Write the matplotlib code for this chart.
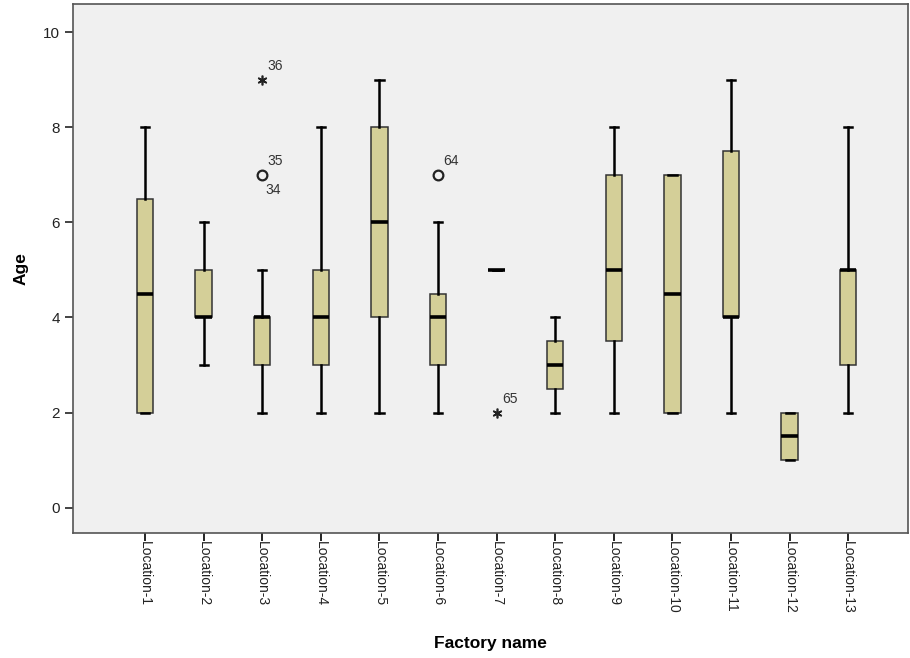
import matplotlib
matplotlib.use("Agg")
import matplotlib.pyplot as plt

plt.rcParams['font.family'] = ['Liberation Sans', 'DejaVu Sans']

locations = [f"Location-{i}" for i in range(1, 14)]
whislo = [2, 3, 2, 2, 2, 2, 5, 2, 2, 2, 2, 1, 2]
q1 =     [2, 4, 3, 3, 4, 3, 5, 2.5, 3.5, 2, 4, 1, 3]
med =    [4.5, 4, 4, 4, 6, 4, 5, 3, 5, 4.5, 4, 1.5, 5]
q3 =     [6.5, 5, 4, 5, 8, 4.5, 5, 3.5, 7, 7, 7.5, 2, 5]
whishi = [8, 6, 5, 8, 9, 6, 5, 4, 8, 7, 9, 2, 8]

# outliers: (location index, value, case labels, kind)
outlier_loc = [3, 3, 6, 7]
outlier_val = [7, 9, 7, 2]
outlier_ids = [["35", "34"], ["36"], ["64"], ["65"]]
outlier_kind = ["o", "*", "o", "*"]

stats = []
for i in range(len(locations)):
    stats.append(dict(label=locations[i], whislo=whislo[i], q1=q1[i], med=med[i],
                      q3=q3[i], whishi=whishi[i], fliers=[]))

fig = plt.figure(figsize=(9.1, 6.58), dpi=100)
ax = fig.add_axes([73 / 910, 1 - 533 / 658, (908 - 73) / 910, (533 - 4) / 658])
ax.set_facecolor("#f0f0f0")

positions = list(range(1, len(locations) + 1))
ax.bxp(stats, positions=positions, widths=0.28, patch_artist=True, showfliers=False,
       boxprops=dict(facecolor="#d4cf98", edgecolor="#333333", linewidth=1.1),
       medianprops=dict(color="black", linewidth=2.6),
       whiskerprops=dict(color="black", linewidth=1.8),
       capprops=dict(color="black", linewidth=1.8), capwidths=0.14)

for loc, val, ids, kind in zip(outlier_loc, outlier_val, outlier_ids, outlier_kind):
    if kind == "o":
        ax.plot(loc, val, marker="o", markersize=7, markerfacecolor="none",
                markeredgecolor="#222222", markeredgewidth=1.6, linestyle="none")
    else:
        ax.plot(loc, val, marker=(6, 2, 0), markersize=7, color="#222222",
                markeredgewidth=1.2, linestyle="none")
    ax.annotate(ids[0], (loc, val), xytext=(4, 5), textcoords="offset points",
                fontsize=10, color="#333333", va="bottom", ha="left")
    if len(ids) > 1:
        ax.annotate(ids[1], (loc, val), xytext=(2, -6), textcoords="offset points",
                    fontsize=10, color="#333333", va="top", ha="left")

ax.set_xlim(-0.23, 14.02)
ax.set_ylim(-0.53, 10.59)
ax.set_yticks([0, 2, 4, 6, 8, 10])
ax.set_xticks(positions)
ax.set_xticklabels(locations, rotation=-90, fontsize=10, color="#222222")
ax.tick_params(axis="y", labelsize=11, colors="#222222", length=6, width=1.2)
ax.tick_params(axis="x", length=6, width=1.2, pad=0)

for s in ax.spines.values():
    s.set_color("#555555")
    s.set_linewidth(1.2)

ax.set_ylabel("Age", fontsize=12.5, fontweight="bold", labelpad=10)
ax.set_xlabel("Factory name", fontsize=12.5, fontweight="bold", labelpad=16)

fig.savefig("out.png", dpi=100)
